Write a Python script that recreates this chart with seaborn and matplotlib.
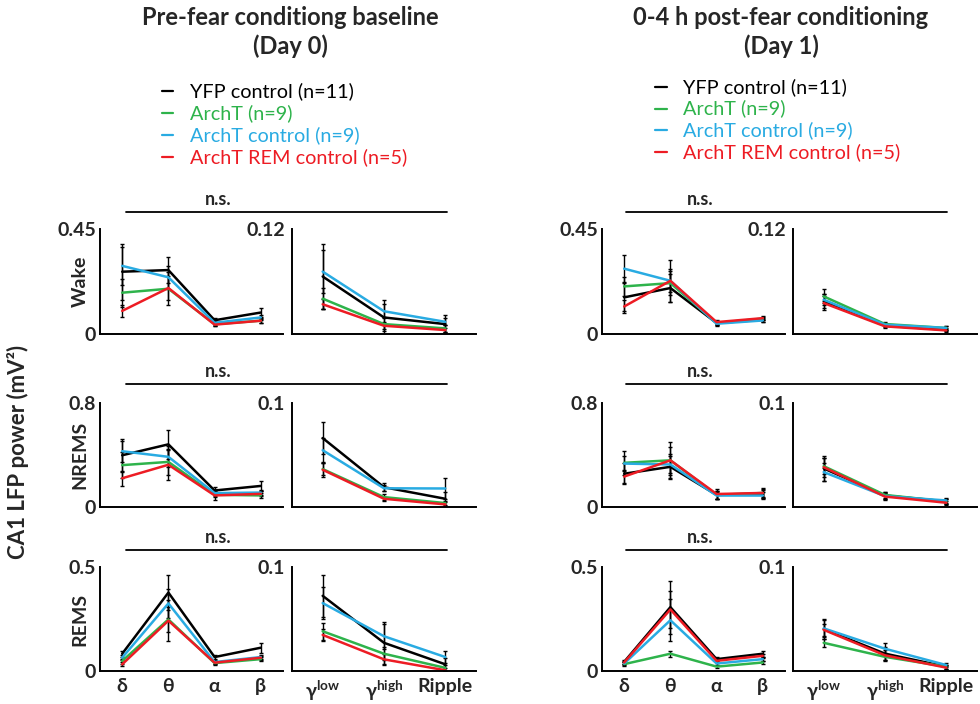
import numpy as np
import pandas as pd
import matplotlib
matplotlib.use("Agg")
import matplotlib.pyplot as plt
import seaborn as sns
from matplotlib.lines import Line2D

# ---------------- data ----------------
groups = ["YFP control (n=11)", "ArchT (n=9)", "ArchT control (n=9)", "ArchT REM control (n=5)"]
group_keys = ["yfp", "archt", "ctrl", "rem"]
colors = ["#000000", "#2eb34b", "#29abe2", "#ed1c24"]
low_bands = ["δ", "θ", "α", "β"]
high_bands = ["γ$^{\\mathbf{low}}$", "γ$^{\\mathbf{high}}$", "Ripple"]
states = ["Wake", "NREMS", "REMS"]
low_top = [0.45, 0.8, 0.5]
low_top_labels = ["0.45", "0.8", "0.5"]
high_top = [0.12, 0.1, 0.1]
high_top_labels = ["0.12", "0.1", "0.1"]
titles = ["Pre-fear conditiong baseline\n(Day 0)", "0-4 h post-fear conditioning\n(Day 1)"]

# means: delta, theta, alpha, beta, gamma-low, gamma-high, ripple
d0_wake_yfp = [0.267, 0.274, 0.059, 0.092, 0.0657, 0.0189, 0.0113]
d0_wake_archt = [0.177, 0.194, 0.042, 0.057, 0.0404, 0.0113, 0.0064]
d0_wake_ctrl = [0.292, 0.243, 0.048, 0.071, 0.0713, 0.0260, 0.0139]
d0_wake_rem = [0.099, 0.197, 0.040, 0.057, 0.0340, 0.0094, 0.0045]
d0_nrems_yfp = [0.398, 0.482, 0.127, 0.162, 0.0663, 0.0190, 0.0079]
d0_nrems_archt = [0.322, 0.347, 0.094, 0.089, 0.0365, 0.0095, 0.0038]
d0_nrems_ctrl = [0.429, 0.386, 0.107, 0.111, 0.0546, 0.0180, 0.0178]
d0_nrems_rem = [0.221, 0.325, 0.089, 0.101, 0.0358, 0.0079, 0.0025]
d0_rems_yfp = [0.083, 0.377, 0.067, 0.112, 0.0723, 0.0271, 0.0064]
d0_rems_archt = [0.048, 0.248, 0.038, 0.057, 0.0382, 0.0166, 0.0030]
d0_rems_ctrl = [0.064, 0.325, 0.043, 0.067, 0.0653, 0.0334, 0.0134]
d0_rems_rem = [0.032, 0.242, 0.040, 0.064, 0.0347, 0.0112, 0.0007]

d1_wake_yfp = [0.157, 0.197, 0.047, 0.061, 0.0373, 0.0095, 0.0049]
d1_wake_archt = [0.204, 0.218, 0.047, 0.066, 0.0430, 0.0114, 0.0069]
d1_wake_ctrl = [0.280, 0.228, 0.044, 0.058, 0.0392, 0.0106, 0.0069]
d1_wake_rem = [0.118, 0.228, 0.051, 0.068, 0.0354, 0.0087, 0.0041]
d1_nrems_yfp = [0.256, 0.309, 0.093, 0.100, 0.0371, 0.0110, 0.0053]
d1_nrems_archt = [0.340, 0.359, 0.093, 0.108, 0.0393, 0.0116, 0.0053]
d1_nrems_ctrl = [0.334, 0.327, 0.088, 0.088, 0.0336, 0.0104, 0.0063]
d1_nrems_rem = [0.234, 0.359, 0.100, 0.108, 0.0383, 0.0100, 0.0041]
d1_rems_yfp = [0.044, 0.307, 0.057, 0.083, 0.0403, 0.0167, 0.0041]
d1_rems_archt = [0.033, 0.083, 0.021, 0.041, 0.0271, 0.0136, 0.0041]
d1_rems_ctrl = [0.036, 0.244, 0.036, 0.057, 0.0410, 0.0214, 0.0057]
d1_rems_rem = [0.041, 0.296, 0.049, 0.073, 0.0396, 0.0151, 0.0032]

# SEM
d0_wake_yfp_err = [0.120, 0.055, 0.010, 0.020, 0.037, 0.020, 0.010]
d0_wake_archt_err = [0.060, 0.070, 0.008, 0.010, 0.012, 0.008, 0.004]
d0_wake_ctrl_err = [0.080, 0.050, 0.008, 0.010, 0.025, 0.008, 0.004]
d0_wake_rem_err = [0.025, 0.050, 0.006, 0.008, 0.006, 0.004, 0.002]
d0_nrems_yfp_err = [0.128, 0.112, 0.030, 0.038, 0.015, 0.004, 0.007]
d0_nrems_archt_err = [0.100, 0.100, 0.020, 0.020, 0.006, 0.003, 0.002]
d0_nrems_ctrl_err = [0.080, 0.080, 0.020, 0.020, 0.012, 0.003, 0.010]
d0_nrems_rem_err = [0.056, 0.117, 0.033, 0.020, 0.007, 0.002, 0.002]
d0_rems_yfp_err = [0.015, 0.083, 0.010, 0.024, 0.020, 0.020, 0.006]
d0_rems_archt_err = [0.012, 0.060, 0.008, 0.010, 0.008, 0.006, 0.003]
d0_rems_ctrl_err = [0.012, 0.070, 0.008, 0.010, 0.015, 0.012, 0.006]
d0_rems_rem_err = [0.010, 0.100, 0.008, 0.010, 0.006, 0.005, 0.002]

d1_wake_yfp_err = [0.060, 0.062, 0.008, 0.008, 0.008, 0.002, 0.002]
d1_wake_archt_err = [0.040, 0.050, 0.008, 0.008, 0.008, 0.002, 0.002]
d1_wake_ctrl_err = [0.057, 0.050, 0.008, 0.008, 0.006, 0.002, 0.002]
d1_wake_rem_err = [0.028, 0.090, 0.008, 0.008, 0.008, 0.002, 0.002]
d1_nrems_yfp_err = [0.080, 0.083, 0.030, 0.030, 0.012, 0.003, 0.002]
d1_nrems_archt_err = [0.090, 0.100, 0.030, 0.030, 0.008, 0.003, 0.002]
d1_nrems_ctrl_err = [0.060, 0.080, 0.030, 0.030, 0.009, 0.003, 0.002]
d1_nrems_rem_err = [0.050, 0.140, 0.040, 0.035, 0.009, 0.003, 0.002]
d1_rems_yfp_err = [0.010, 0.127, 0.010, 0.015, 0.0095, 0.006, 0.002]
d1_rems_archt_err = [0.008, 0.015, 0.006, 0.008, 0.004, 0.004, 0.002]
d1_rems_ctrl_err = [0.008, 0.100, 0.008, 0.010, 0.008, 0.006, 0.002]
d1_rems_rem_err = [0.008, 0.090, 0.008, 0.010, 0.006, 0.005, 0.002]

g = globals()

# ---------------- style ----------------
sns.set_theme(style="white")
FAM = ["Lato", "DejaVu Sans"]
plt.rcParams["font.family"] = FAM
plt.rcParams["mathtext.fontset"] = "custom"
plt.rcParams["mathtext.rm"] = "Lato"
plt.rcParams["mathtext.bf"] = "Lato:bold"

W, H = 980, 704
fig = plt.figure(figsize=(W / 100, H / 100), dpi=100)
fig.patch.set_facecolor("white")


def px_axes(x0, x1, y0, y1):
    return fig.add_axes([x0 / W, 1 - y1 / H, (x1 - x0) / W, (y1 - y0) / H])


col_x = [(100, 283, 292, 476), (602, 785, 793, 977)]
row_y = [(229, 334), (403, 507), (567, 671)]
ns_y = [212, 384, 550]
ns_x = [(126, 447, 218), (626, 947, 700)]

for d, day in enumerate(["d0", "d1"]):
    lx0, lx1, rx0, rx1 = col_x[d]
    for s, st in enumerate(["wake", "nrems", "rems"]):
        y0, y1 = row_y[s]
        recs = []
        for gk, gname in zip(group_keys, groups):
            vals = g[f"{day}_{st}_{gk}"]
            errs = g[f"{day}_{st}_{gk}_err"]
            for i in range(7):
                recs.append(dict(group=gname, band=i, value=vals[i], err=errs[i]))
        df = pd.DataFrame(recs)
        low = df[df.band < 4].copy()
        high = df[df.band >= 4].copy()
        high["band"] = high["band"] - 4

        axL = px_axes(lx0, lx1, y0, y1)
        axR = px_axes(rx0, rx1, y0, y1)
        for ax, sub, top, toplab, nb in [(axL, low, low_top[s], low_top_labels[s], 4),
                                         (axR, high, high_top[s], high_top_labels[s], 3)]:
            for gname in groups:
                gd = sub[sub.group == gname]
                ax.errorbar(gd.band, gd.value, yerr=gd.err, fmt="none", ecolor="black",
                            elinewidth=1.0, capsize=1.5, capthick=1.0, zorder=1)
            sns.lineplot(data=sub, x="band", y="value", hue="group", hue_order=groups,
                         palette=colors, linewidth=1.8, legend=False, ax=ax, zorder=2,
                         errorbar=None)
            ax.set_ylim(0, top)
            ax.set_xlabel("")
            ax.set_ylabel("")
            for sp in ["top", "right"]:
                ax.spines[sp].set_visible(False)
            for sp in ["left", "bottom"]:
                ax.spines[sp].set_color("black")
                ax.spines[sp].set_linewidth(1.4)
            ax.set_facecolor("none")
            ax.tick_params(axis="both", length=0)
            if nb == 4:
                ax.set_xlim(-0.48, 3.48)
                ax.set_yticks([0, top])
                ax.set_yticklabels(["0", toplab], fontsize=14, fontweight="bold", family=FAM)
                ax.tick_params(axis="y", pad=3)
                names = low_bands
            else:
                ax.set_xlim(-0.5, 2.5)
                ax.set_yticks([top])
                ax.set_yticklabels([toplab], fontsize=14, fontweight="bold", family=FAM)
                ax.tick_params(axis="y", pad=5)
                names = high_bands
            ax.set_xticks(range(nb))
            if s == 2:
                ax.set_xticklabels(names, fontsize=14, fontweight="bold", family=FAM)
                ax.tick_params(axis="x", pad=5)
            else:
                ax.set_xticklabels([])
        # n.s. bracket
        a, b, c = ns_x[d]
        fig.add_artist(Line2D([a / W, b / W], [1 - ns_y[s] / H] * 2, color="black", lw=1.3))
        fig.text(c / W, 1 - (ns_y[s] - 4) / H, "n.s.", ha="center", va="bottom",
                 fontsize=13, fontweight="bold")
        if d == 0:
            fig.text(80 / W, 1 - ((y0 + y1) / 2) / H, states[s], rotation=90,
                     ha="center", va="center", fontsize=14, fontweight="bold")

# titles
for cx, t in zip([290, 781], titles):
    fig.text(cx / W, 1 - 6 / H, t, ha="center", va="top", fontsize=17,
             fontweight="bold", linespacing=1.3)

# legends
leg_pos = [(162, 173, 190, 91, 22), (655, 667, 683, 87, 21.7)]
for (lx0, lx1, tx, ly, dy) in leg_pos:
    for i, (gname, col) in enumerate(zip(groups, colors)):
        yy = 1 - (ly + i * dy) / H
        fig.add_artist(Line2D([lx0 / W, lx1 / W], [yy, yy], color=col, lw=1.6))
        fig.text(tx / W, yy, gname, color=col, ha="left", va="center", fontsize=14.3)

fig.text(18 / W, 1 - 452 / H, "CA1 LFP power (mV²)", rotation=90, ha="center",
         va="center", fontsize=16, fontweight="bold")

fig.savefig("out.png", dpi=100, facecolor="white")
